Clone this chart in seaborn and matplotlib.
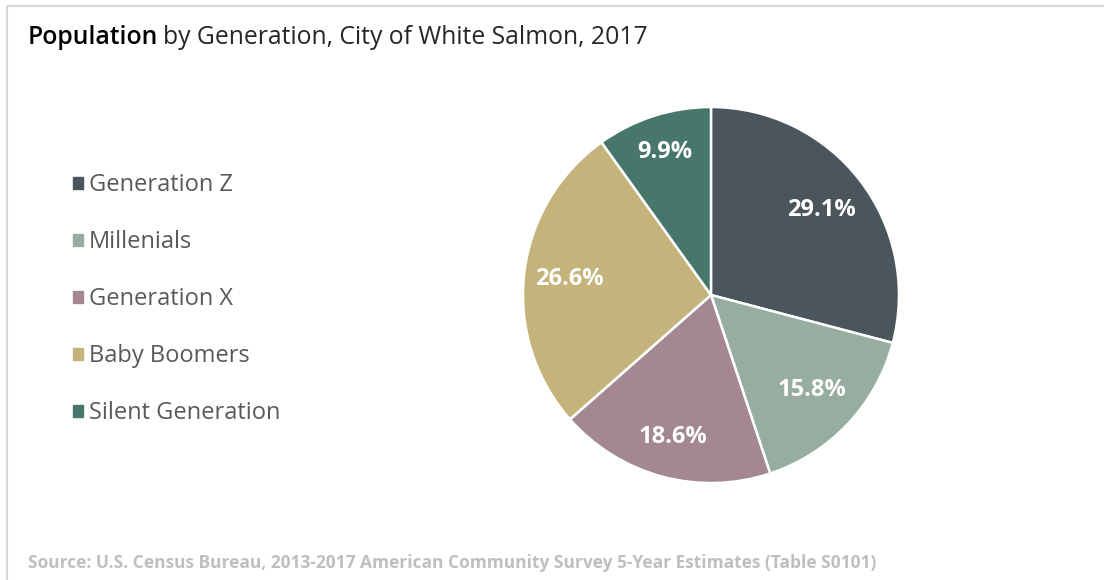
import matplotlib
matplotlib.use("Agg")
import matplotlib.pyplot as plt
import seaborn as sns
import numpy as np
from matplotlib.lines import Line2D
from matplotlib.patches import Patch

categories = ["Generation Z", "Millenials", "Generation X", "Baby Boomers", "Silent Generation"]
values = [29.1, 15.8, 18.6, 26.6, 9.9]
colors = ["#4b565c", "#96ad9f", "#a38893", "#c4b47b", "#47776a"]
label_dist = [0.74, 0.74, 0.78, 0.76, 0.80]

sns.set_theme(style="white")
plt.rcParams["font.family"] = ["Open Sans", "DejaVu Sans"]
palette = sns.color_palette(colors)

fig = plt.figure(figsize=(11.04, 5.8), dpi=100)
fig.patch.set_facecolor("white")

# border lines (top and left)
fig.add_artist(Line2D([7 / 1104, 1], [1 - 6 / 580, 1 - 6 / 580], color="#d9d9d9", lw=1.5, transform=fig.transFigure))
fig.add_artist(Line2D([7 / 1104, 7 / 1104], [0, 1 - 6 / 580], color="#d9d9d9", lw=1.5, transform=fig.transFigure))

ax = fig.add_axes([0.4737, 0.1672, 0.3406, 0.6483])
wedges, texts, autotexts = ax.pie(
    values, colors=palette, startangle=90, counterclock=False,
    autopct="%.1f%%", pctdistance=0.74, radius=1.0,
    wedgeprops=dict(edgecolor="white", linewidth=1.8),
    textprops=dict(color="white", fontsize=17, fontweight="bold"),
)
for w, t, d in zip(wedges, autotexts, label_dist):
    ang = np.deg2rad((w.theta1 + w.theta2) / 2)
    t.set_position((d * np.cos(ang), d * np.sin(ang)))
ax.set_xlim(-1.0, 1.0)
ax.set_ylim(-1.0, 1.0)
ax.set_aspect("equal")
ax.axis("off")

# title
t1 = fig.text(28 / 1104, 1 - 37 / 580, "Population", fontsize=17.8, color="black", fontweight="semibold",
              va="center", ha="left")
fig.canvas.draw()
bb = t1.get_window_extent()
fig.text((bb.x1 + 5) / 1104, 1 - 37 / 580, "by Generation, City of White Salmon, 2017", fontsize=17.8,
         color="#262626", va="center", ha="left")

handles = [Patch(facecolor=c, edgecolor=c) for c in palette]
leg = fig.legend(handles, categories, loc="upper left", bbox_to_anchor=(52 / 1104, 1 - 152 / 580),
                 frameon=False, fontsize=17, labelcolor="#595959", handlelength=0.4, handleheight=0.4,
                 handletextpad=0.25, labelspacing=1.4)

fig.text(28 / 1104, 1 - 563 / 580,
         "Source: U.S. Census Bureau, 2013-2017 American Community Survey 5-Year Estimates (Table S0101)",
         fontsize=12.5, color="#bfbfbf", fontweight="bold", va="center", ha="left")

fig.savefig("out.png", dpi=100, facecolor="white")
